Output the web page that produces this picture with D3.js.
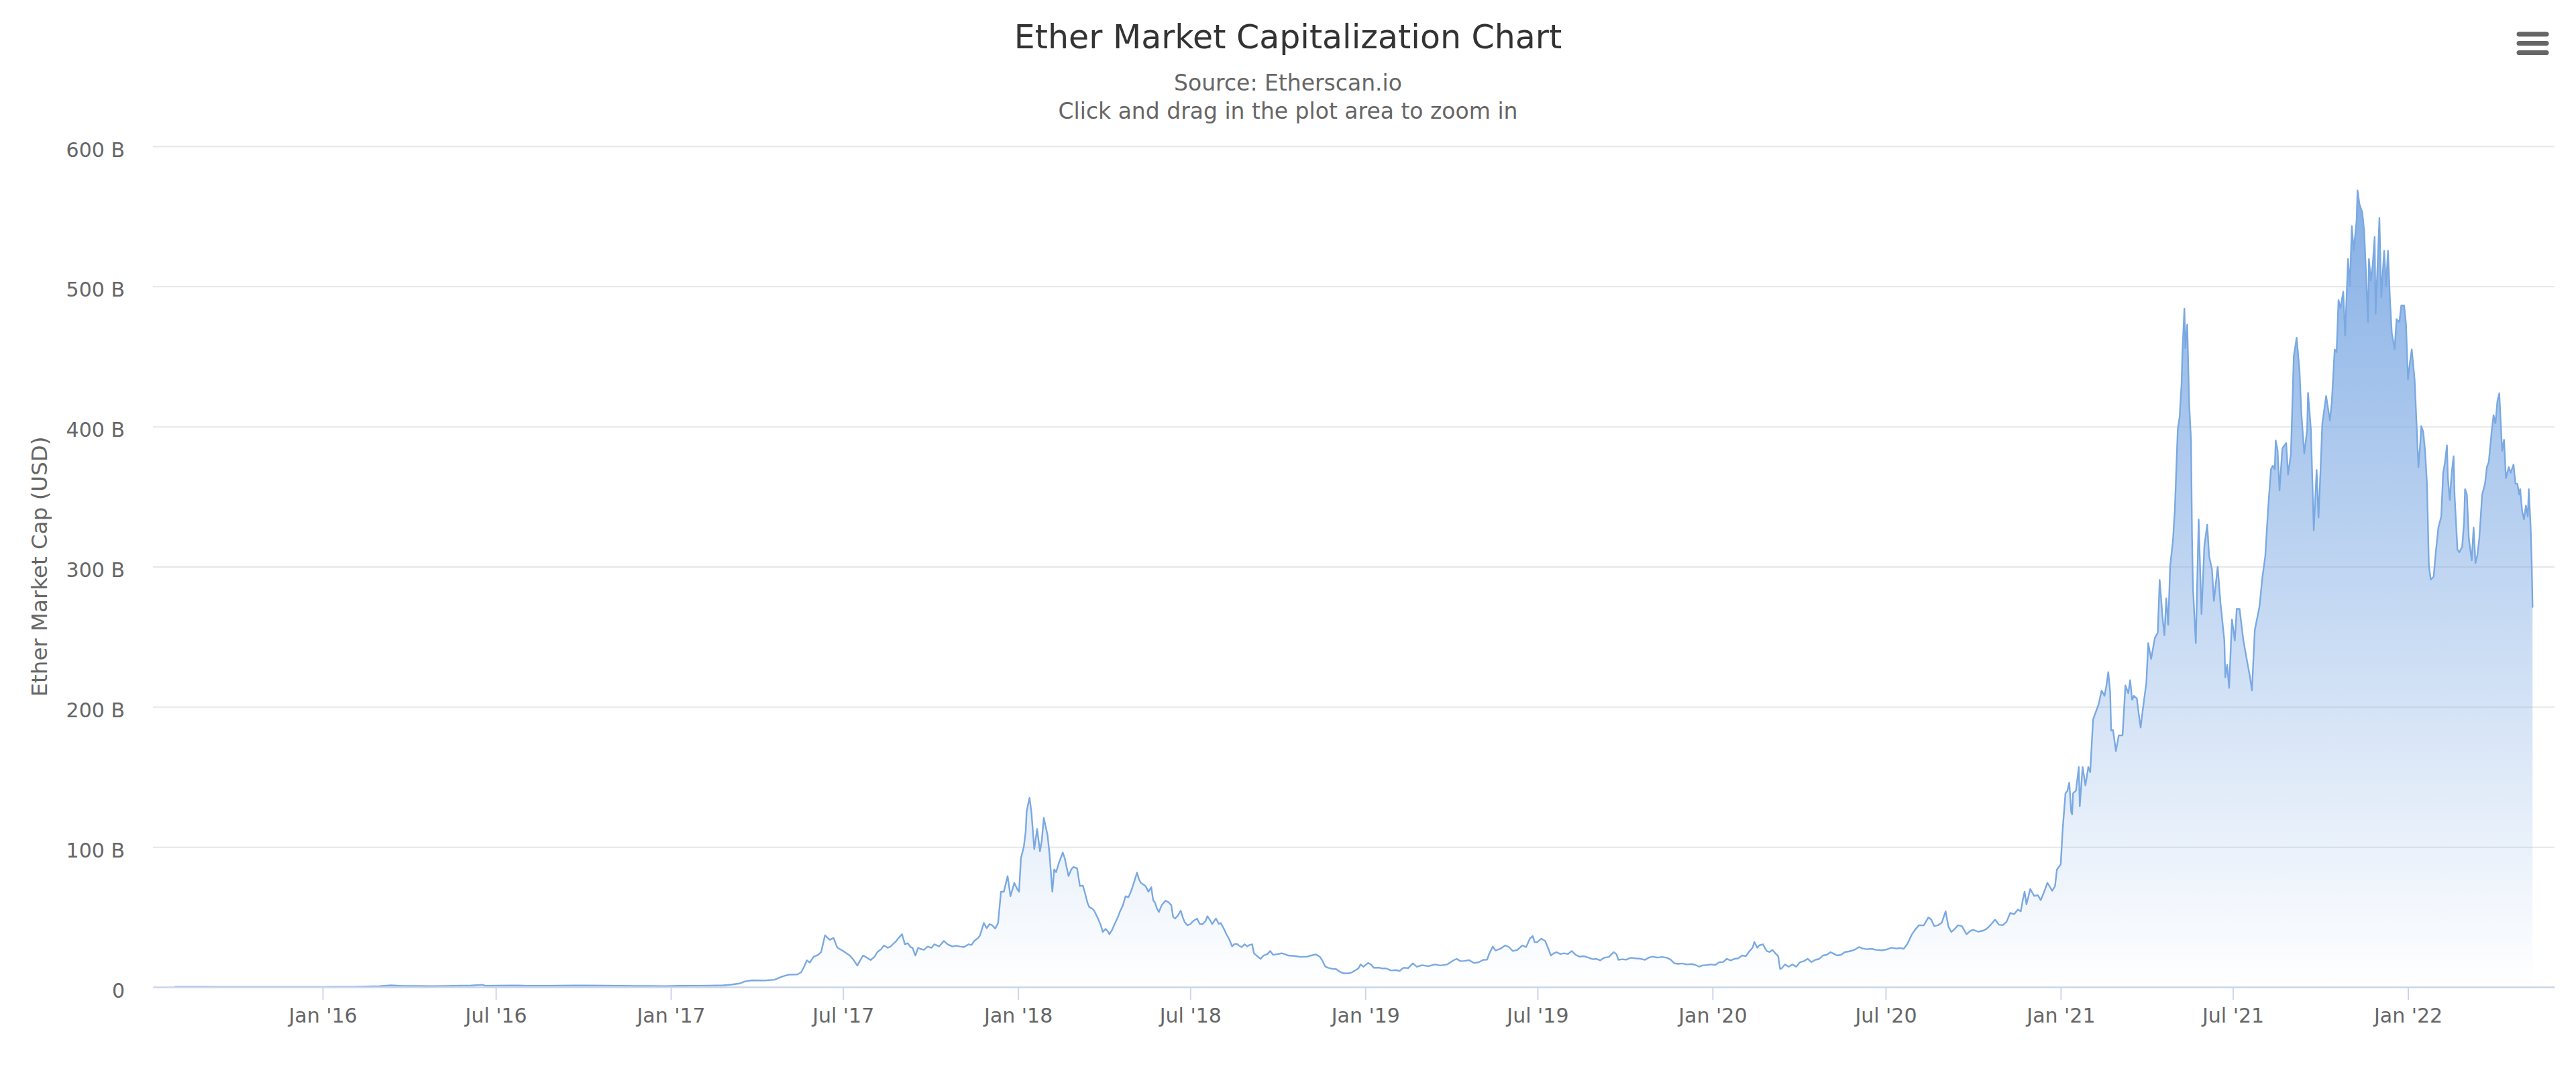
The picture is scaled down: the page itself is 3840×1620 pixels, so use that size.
<!DOCTYPE html>
<html>
<head>
<meta charset="utf-8">
<script src="https://cdn.jsdelivr.net/npm/d3@7"></script>
<style>
  html, body { margin: 0; padding: 0; background: #ffffff; }
  svg { display: block; }
  text { font-family: "DejaVu Sans", "Liberation Sans", sans-serif; }
</style>
</head>
<body>
<svg id="chart" width="3840" height="1620"></svg>
<script>
// ---- DATA (Ether market cap, billions USD) ----
const chartTitle = "Ether Market Capitalization Chart";
const subtitleLines = ["Source: Etherscan.io", "Click and drag in the plot area to zoom in"];
const yAxisTitle = "Ether Market Cap (USD)";
const yTickValues = [0, 100, 200, 300, 400, 500, 600];
const yTickLabels = ["0", "100 B", "200 B", "300 B", "400 B", "500 B", "600 B"];
const xTickLabels = ["Jan '16", "Jul '16", "Jan '17", "Jul '17", "Jan '18", "Jul '18", "Jan '19", "Jul '19", "Jan '20", "Jul '20", "Jan '21", "Jul '21", "Jan '22"];

const cap2015 = [
  ["2015-07-30",0.15],["2015-08-07",0.2],["2015-08-14",0.13],["2015-08-21",0.1],["2015-09-01",0.1],
  ["2015-09-15",0.07],["2015-10-01",0.05],["2015-10-21",0.04],["2015-11-01",0.08],["2015-11-15",0.07],
  ["2015-12-01",0.07],["2015-12-15",0.07]
];
const cap2016 = [
  ["2016-01-01",0.07],["2016-01-15",0.09],["2016-02-01",0.19],["2016-02-15",0.4],["2016-03-01",0.6],
  ["2016-03-13",1.2],["2016-03-25",0.8],["2016-04-10",0.7],["2016-04-25",0.6],["2016-05-10",0.8],
  ["2016-05-25",1.0],["2016-06-05",1.1],["2016-06-17",1.6],["2016-06-20",0.9],["2016-07-01",1.0],
  ["2016-07-24",1.1],["2016-08-05",0.9],["2016-08-20",0.9],["2016-09-05",1.0],["2016-09-20",1.1],
  ["2016-10-05",1.1],["2016-10-25",1.0],["2016-11-10",0.9],["2016-11-25",0.7],["2016-12-10",0.7],
  ["2016-12-25",0.6]
];
const cap2017 = [
  ["2017-01-10",0.85],["2017-01-25",0.9],["2017-02-10",1.0],["2017-02-25",1.2],["2017-03-05",1.7],
  ["2017-03-14",2.5],["2017-03-20",4.0],["2017-03-27",4.8],["2017-04-10",4.7],["2017-04-20",5.2],
  ["2017-04-28",7.5],["2017-05-05",8.8],["2017-05-14",9.0],["2017-05-18",10.5],["2017-05-21",14.5],
  ["2017-05-24",19],["2017-05-27",17.5],["2017-05-31",21.5],["2017-06-05",23],["2017-06-08",25],
  ["2017-06-12",36.9],["2017-06-17",33.7],["2017-06-21",35],["2017-06-25",28.1],["2017-07-01",25.7],
  ["2017-07-08",22.5],["2017-07-12",19.5],["2017-07-16",15.3],["2017-07-19",19],["2017-07-22",22.5],
  ["2017-07-26",21],["2017-07-30",19.3],["2017-08-03",21.5],["2017-08-06",24.9],["2017-08-10",27],
  ["2017-08-13",29.7],["2017-08-17",28],["2017-08-20",28.9],["2017-08-23",31],["2017-08-26",32.9],
  ["2017-08-29",35.5],["2017-09-01",37.7],["2017-09-04",30.5],["2017-09-07",31.3],["2017-09-10",28.5],
  ["2017-09-12",28],["2017-09-15",22.5],["2017-09-18",28],["2017-09-20",27.3],["2017-09-24",26.5],
  ["2017-09-28",28.9],["2017-10-02",28],["2017-10-05",30.5],["2017-10-10",29],["2017-10-15",32.9],
  ["2017-10-19",30.5],["2017-10-24",28.9],["2017-10-28",29.5],["2017-11-01",28.9],["2017-11-05",28.5],
  ["2017-11-10",30.5],["2017-11-13",30],["2017-11-16",32.9],["2017-11-20",35],["2017-11-22",36.9],
  ["2017-11-26",45.7],["2017-11-29",42],["2017-12-02",44.9],["2017-12-05",44],["2017-12-08",41.7],
  ["2017-12-11",45.7],["2017-12-14",68],["2017-12-17",68],["2017-12-21",79.2],["2017-12-24",64.8],
  ["2017-12-28",74.3],["2017-12-31",70]
];
const cap2018 = [
  ["2018-01-02",68],["2018-01-04",92],["2018-01-07",100],["2018-01-09",111],["2018-01-10",125.5],
  ["2018-01-13",135],["2018-01-15",125],["2018-01-16",116],["2018-01-18",98.4],["2018-01-21",112.8],
  ["2018-01-24",96.8],["2018-01-26",105],["2018-01-28",120.7],["2018-02-01",108.2],["2018-02-03",95.2],
  ["2018-02-06",68],["2018-02-08",84],["2018-02-10",82],["2018-02-13",88.8],["2018-02-17",96],
  ["2018-02-19",92],["2018-02-21",85.6],["2018-02-23",79.2],["2018-02-26",84],["2018-02-28",85.6],
  ["2018-03-04",84.8],["2018-03-07",72],["2018-03-10",72.5],["2018-03-12",68],["2018-03-15",60],
  ["2018-03-17",56.9],["2018-03-20",56],["2018-03-22",54.5],["2018-03-26",48.9],["2018-03-29",44],
  ["2018-03-31",39.3],["2018-04-03",41.5],["2018-04-05",40],["2018-04-07",37.7],["2018-04-10",41],
  ["2018-04-13",45.7],["2018-04-16",50],["2018-04-18",53.7],["2018-04-21",58],["2018-04-24",64.8],
  ["2018-04-27",64],["2018-04-30",68.8],["2018-05-03",75],["2018-05-06",81.6],["2018-05-08",77],
  ["2018-05-10",74.4],["2018-05-13",73],["2018-05-15",72],["2018-05-18",68],["2018-05-21",71.2],
  ["2018-05-23",62],["2018-05-25",60],["2018-05-27",56],["2018-05-29",53.5],["2018-06-01",58.5],
  ["2018-06-05",61.6],["2018-06-08",60.5],["2018-06-11",58.5],["2018-06-13",50],["2018-06-15",48.9],
  ["2018-06-18",51],["2018-06-21",54.5],["2018-06-23",50],["2018-06-25",46.5],["2018-06-28",44],
  ["2018-07-01",44.9],["2018-07-04",47],["2018-07-08",48.9],["2018-07-11",45],["2018-07-14",44.9],
  ["2018-07-17",47],["2018-07-19",50.5],["2018-07-22",47.5],["2018-07-24",44.9],["2018-07-26",47],
  ["2018-07-28",48.9],["2018-07-31",45],["2018-08-02",45.7],["2018-08-05",42],["2018-08-08",37.7],
  ["2018-08-11",34],["2018-08-14",29],["2018-08-16",30.5],["2018-08-19",30.8],["2018-08-21",29.7],
  ["2018-08-24",28.5],["2018-08-27",30.5],["2018-08-30",29],["2018-09-01",30],["2018-09-04",30.5],
  ["2018-09-06",24],["2018-09-10",21.7],["2018-09-13",20.1],["2018-09-16",22.5],["2018-09-20",23.5],
  ["2018-09-23",25.7],["2018-09-26",23],["2018-09-29",23.3],["2018-10-02",23.6],["2018-10-05",24.1],
  ["2018-10-08",23.5],["2018-10-12",22.5],["2018-10-16",22.3],["2018-10-20",22],["2018-10-25",21.5],
  ["2018-11-01",21.7],["2018-11-05",22.5],["2018-11-10",23.3],["2018-11-14",21.7],["2018-11-17",18.7],
  ["2018-11-20",14.5],["2018-11-23",13.7],["2018-11-28",12.9],["2018-12-01",12.9],["2018-12-05",11],
  ["2018-12-09",9.8],["2018-12-14",9.7],["2018-12-18",10.5],["2018-12-22",12.1],["2018-12-25",13.5],
  ["2018-12-27",16.1],["2018-12-30",14.5]
];
const cap2019 = [
  ["2019-01-04",17.2],["2019-01-07",16],["2019-01-10",13.7],["2019-01-15",13.8],["2019-01-19",13.3],
  ["2019-01-23",13.3],["2019-01-28",11.8],["2019-02-02",12.1],["2019-02-06",11.5],["2019-02-10",13.7],
  ["2019-02-15",13.5],["2019-02-20",16.9],["2019-02-24",14.5],["2019-03-02",15.6],["2019-03-08",14.8],
  ["2019-03-15",16.1],["2019-03-21",15.4],["2019-03-28",16.1],["2019-04-03",18.8],["2019-04-07",20.1],
  ["2019-04-11",18.5],["2019-04-15",18.6],["2019-04-20",19.2],["2019-04-25",17.2],["2019-04-30",17.6],
  ["2019-05-05",19.4],["2019-05-09",19.5],["2019-05-11",23.3],["2019-05-15",28.9],["2019-05-18",26],
  ["2019-05-23",27.3],["2019-05-28",29.7],["2019-06-01",28.5],["2019-06-05",25.7],["2019-06-10",26.5],
  ["2019-06-15",29.7],["2019-06-19",28.5],["2019-06-23",34.5],["2019-06-26",36.4],["2019-06-28",32],
  ["2019-07-01",32.1],["2019-07-05",34.5],["2019-07-09",32.9],["2019-07-12",28],["2019-07-15",22.5],
  ["2019-07-18",24],["2019-07-21",24.9],["2019-07-25",23.5],["2019-07-29",24.1],["2019-08-02",23.5],
  ["2019-08-06",25.7],["2019-08-10",23],["2019-08-14",21.7],["2019-08-19",22],["2019-08-24",20.9],
  ["2019-08-28",19.8],["2019-09-01",20.1],["2019-09-05",19],["2019-09-09",20.9],["2019-09-14",21.5],
  ["2019-09-19",24.9],["2019-09-22",23.5],["2019-09-24",19.4],["2019-09-28",19.8],["2019-10-02",19.5],
  ["2019-10-07",20.9],["2019-10-12",20.5],["2019-10-17",20.2],["2019-10-22",19.4],["2019-10-26",21],
  ["2019-10-30",21.7],["2019-11-04",21],["2019-11-09",21.5],["2019-11-14",20.9],["2019-11-18",19.5],
  ["2019-11-22",16.9],["2019-11-26",16.5],["2019-11-30",16.8],["2019-12-05",16.1],["2019-12-10",16.4],
  ["2019-12-14",15.8],["2019-12-18",14.5],["2019-12-22",15.5],["2019-12-26",15.7],["2019-12-30",16.1]
];
const cap2020 = [
  ["2020-01-04",15.8],["2020-01-08",17.7],["2020-01-12",17.8],["2020-01-16",20.1],["2020-01-20",19],
  ["2020-01-24",20.1],["2020-01-28",20.5],["2020-02-01",22.5],["2020-02-05",22],["2020-02-09",25.7],
  ["2020-02-12",28],["2020-02-14",32.1],["2020-02-17",28],["2020-02-19",29.7],["2020-02-23",30.5],
  ["2020-02-25",28],["2020-02-27",25.7],["2020-03-01",25],["2020-03-04",26.5],["2020-03-07",24.1],
  ["2020-03-10",22],["2020-03-12",12.9],["2020-03-14",13.5],["2020-03-17",16.1],["2020-03-21",14.5],
  ["2020-03-25",16.1],["2020-03-29",14.5],["2020-04-02",17.7],["2020-04-06",18.5],["2020-04-10",20.1],
  ["2020-04-14",17.8],["2020-04-18",19.4],["2020-04-22",20],["2020-04-26",22.5],["2020-04-30",23],
  ["2020-05-04",24.9],["2020-05-08",23.5],["2020-05-11",22.5],["2020-05-15",23],["2020-05-19",24.9],
  ["2020-05-24",25.5],["2020-05-29",26.5],["2020-06-03",28.5],["2020-06-07",27.5],["2020-06-11",27],
  ["2020-06-16",27.3],["2020-06-21",26.5],["2020-06-27",26.2],["2020-07-02",26.8],["2020-07-07",28.1],
  ["2020-07-12",27.5],["2020-07-16",27.8],["2020-07-20",27.3],["2020-07-24",31],["2020-07-28",36.9],
  ["2020-08-01",41],["2020-08-05",44.1],["2020-08-10",44],["2020-08-15",49.7],["2020-08-18",48],
  ["2020-08-21",43.5],["2020-08-25",44.1],["2020-08-29",46],["2020-09-02",54],["2020-09-05",43],
  ["2020-09-08",39.3],["2020-09-11",41],["2020-09-15",44.1],["2020-09-19",43.5],["2020-09-24",37.7],
  ["2020-09-28",40],["2020-10-01",40.9],["2020-10-06",39.5],["2020-10-11",40.1],["2020-10-15",41.5],
  ["2020-10-19",44.1],["2020-10-24",48.1],["2020-10-28",44.5],["2020-11-01",44.1],["2020-11-05",46.5],
  ["2020-11-09",52.9],["2020-11-13",52],["2020-11-17",55.3],["2020-11-20",54],["2020-11-22",61.7],
  ["2020-11-24",68],["2020-11-26",59],["2020-11-30",70],["2020-12-04",65],["2020-12-08",65.5],
  ["2020-12-11",62],["2020-12-15",68.7],["2020-12-18",74.4],["2020-12-21",71],["2020-12-23",68.7],
  ["2020-12-26",72],["2020-12-28",83.8]
];
const cap2021 = [
  ["2021-01-01",87.5],["2021-01-03",112],["2021-01-06",138.3],["2021-01-08",140],["2021-01-10",145.8],
  ["2021-01-12",125],["2021-01-13",123.2],["2021-01-14",138.3],["2021-01-17",140.1],["2021-01-20",157],
  ["2021-01-21",128.9],["2021-01-24",157],["2021-01-27",143.9],["2021-01-30",157],["2021-02-01",153.3],
  ["2021-02-04",190.9],["2021-02-07",196.5],["2021-02-10",202.2],["2021-02-13",211.6],["2021-02-16",207.8],
  ["2021-02-18",215],["2021-02-20",224.7],["2021-02-22",210],["2021-02-23",183],["2021-02-25",183.4],
  ["2021-02-28",168.3],["2021-03-03",179.6],["2021-03-07",179.6],["2021-03-10",215.3],["2021-03-13",209.7],
  ["2021-03-15",219],["2021-03-17",205],["2021-03-19",207.8],["2021-03-22",206],["2021-03-24",195],
  ["2021-03-26",185.2],["2021-03-28",196.5],["2021-04-01",217.2],["2021-04-03",245.4],["2021-04-06",234.1],
  ["2021-04-10",249.2],["2021-04-13",252.9],["2021-04-15",290.5],["2021-04-18",264.2],["2021-04-20",251],
  ["2021-04-22",277.4],["2021-04-24",258.5],["2021-04-26",299.9],["2021-04-29",318.7],["2021-05-01",341.3],
  ["2021-05-04",397.6],["2021-05-06",407],["2021-05-08",430],["2021-05-09",454],["2021-05-11",484.1],
  ["2021-05-12",455.9],["2021-05-14",472.8],["2021-05-16",416.4],["2021-05-18",390],["2021-05-19",322.5],
  ["2021-05-20",284.9],["2021-05-23",245.4],["2021-05-26",333.7],["2021-05-29",266.1],["2021-06-01",315],
  ["2021-06-04",330],["2021-06-06",307.4],["2021-06-09",298],["2021-06-11",275.5],["2021-06-15",299.9],
  ["2021-06-18",273.6],["2021-06-22",247.3],["2021-06-23",221],["2021-06-25",230],["2021-06-27",213.4],
  ["2021-06-30",262.3],["2021-07-03",247.3],["2021-07-05",269.8],["2021-07-08",269.8],["2021-07-12",247.3],
  ["2021-07-16",232.2],["2021-07-19",221],["2021-07-21",211.6],["2021-07-24",254.8],["2021-07-29",271.7],
  ["2021-08-01",292.4],["2021-08-04",307.4],["2021-08-07",341.3],["2021-08-10",369.5],["2021-08-12",372],
  ["2021-08-14",369.5],["2021-08-15",390.1],["2021-08-17",382.6],["2021-08-19",354.4],["2021-08-22",384.5],
  ["2021-08-26",388.2],["2021-08-28",365.7],["2021-08-31",380.7],["2021-09-03",450.3],["2021-09-06",463.4],
  ["2021-09-09",440],["2021-09-11",408.9],["2021-09-14",380.7],["2021-09-17",397.6],["2021-09-18",424],
  ["2021-09-21",397.6],["2021-09-24",326],["2021-09-27",369],["2021-09-29",335],["2021-10-01",367],
  ["2021-10-03",402.3],["2021-10-07",421.8],["2021-10-11",404.2],["2021-10-13",417.9],["2021-10-16",455.1],
  ["2021-10-18",453.1],["2021-10-20",490.3],["2021-10-22",484.4],["2021-10-25",496.2],["2021-10-27",464.9],
  ["2021-10-30",519.6],["2021-11-01",500.1],["2021-11-03",543.1],["2021-11-05",525.5],["2021-11-08",547],
  ["2021-11-09",568.5],["2021-11-11",558.7],["2021-11-14",552.9],["2021-11-16",539.2],["2021-11-18",507.9],
  ["2021-11-20",474.6],["2021-11-21",519.6],["2021-11-23",504],["2021-11-25",515.7],["2021-11-27",535.3],
  ["2021-11-28",480.5],["2021-11-30",513.8],["2021-12-02",548.9],["2021-12-04",492.2],["2021-12-07",525.5],
  ["2021-12-09",500.1],["2021-12-11",525.5],["2021-12-13",492.2],["2021-12-15",466.8],["2021-12-18",455.1],
  ["2021-12-20",476.6],["2021-12-23",474.6],["2021-12-25",486.4],["2021-12-28",486.4],["2021-12-30",472.7]
];
const cap2022 = [
  ["2022-01-01",433.6],["2022-01-03",445.3],["2022-01-05",455.1],["2022-01-08",433.6],["2022-01-10",402.3],
  ["2022-01-12",371],["2022-01-14",388.6],["2022-01-15",400.3],["2022-01-17",396.4],["2022-01-19",382.7],
  ["2022-01-21",359.2],["2022-01-23",300.6],["2022-01-25",290.8],["2022-01-28",292.7],["2022-01-30",308.4],
  ["2022-02-02",327.9],["2022-02-05",335.8],["2022-02-07",367],["2022-02-09",374.9],["2022-02-11",386.6],
  ["2022-02-12",363.1],["2022-02-14",347.5],["2022-02-16",367],["2022-02-18",378.8],["2022-02-19",351.4],
  ["2022-02-22",312.3],["2022-02-24",310.3],["2022-02-27",314.2],["2022-03-01",331.9],["2022-03-02",355.3],
  ["2022-03-04",351.4],["2022-03-06",320.1],["2022-03-09",304.5],["2022-03-11",327.9],["2022-03-13",302.5],
  ["2022-03-15",308.4],["2022-03-17",320.1],["2022-03-20",351.4],["2022-03-23",359.2],["2022-03-25",371],
  ["2022-03-27",374.9],["2022-03-30",396.4],["2022-04-01",408.1],["2022-04-03",402.3],["2022-04-05",417.9],
  ["2022-04-07",423.8],["2022-04-08",410.1],["2022-04-10",382.7],["2022-04-12",390.5],["2022-04-14",363.1],
  ["2022-04-17",371],["2022-04-19",367],["2022-04-22",372.9],["2022-04-24",359.2],["2022-04-26",359.2],
  ["2022-04-28",351.4],["2022-04-29",355.3],["2022-05-01",339.7],["2022-05-03",333.8],["2022-05-05",343.6],
  ["2022-05-07",335.8],["2022-05-08",355.3],["2022-05-10",327.9],["2022-05-11",304.5],["2022-05-12",271.2]
];

// ---- BUILD ----
const parse = d3.utcParse("%Y-%m-%d");
const series = [].concat(cap2015, cap2016, cap2017, cap2018, cap2019, cap2020, cap2021, cap2022)
  .map(([d, v]) => ({ date: parse(d), value: v }));

const W = 3840, H = 1620;
const plotLeft = 228, plotRight = 3808, plotTop = 218, plotBottom = 1471;

const svg = d3.select("#chart");
svg.append("rect").attr("width", W).attr("height", H).attr("fill", "#ffffff");

const x = d3.scaleUtc()
  .domain([new Date("2015-07-06T14:00:00Z"), new Date("2022-06-04T02:00:00Z")])
  .range([plotLeft, plotRight]);
const y = d3.scaleLinear().domain([0, 600]).range([plotBottom, plotTop]);

// gradient
const defs = svg.append("defs");
const grad = defs.append("linearGradient").attr("id", "areaGrad")
  .attr("x1", 0).attr("y1", 0).attr("x2", 0).attr("y2", 1);
grad.append("stop").attr("offset", "0%").attr("stop-color", "#7fabe4").attr("stop-opacity", 0.95);
grad.append("stop").attr("offset", "100%").attr("stop-color", "#7fabe4").attr("stop-opacity", 0);

// Y axis with gridlines
const yAxis = d3.axisLeft(y)
  .tickValues(yTickValues)
  .tickFormat((d, i) => yTickLabels[i])
  .tickSize(-(plotRight - plotLeft))
  .tickPadding(42);
const gy = svg.append("g").attr("transform", `translate(${plotLeft},0)`).call(yAxis);
gy.select(".domain").remove();
gy.selectAll(".tick line").attr("stroke", "#e6e6e6").attr("stroke-width", 2);
gy.selectAll(".tick text")
  .attr("fill", "#666666").attr("font-size", 30)
  .attr("font-family", "DejaVu Sans, sans-serif")
  .attr("dy", "0.5em");

// Area + line
const area = d3.area().x(d => x(d.date)).y0(y(0)).y1(d => y(d.value));
const line = d3.line().x(d => x(d.date)).y(d => y(d.value));
svg.append("path").datum(series).attr("d", area).attr("fill", "url(#areaGrad)");
svg.append("path").datum(series).attr("d", line)
  .attr("fill", "none").attr("stroke", "#7aa9e2").attr("stroke-width", 2.4)
  .attr("stroke-linejoin", "round").attr("stroke-linecap", "round");

// X axis
const xTicks = x.ticks(d3.utcMonth.every(6));
const xAxis = d3.axisBottom(x)
  .tickValues(xTicks)
  .tickFormat((d, i) => xTickLabels[i])
  .tickSize(19).tickSizeOuter(0).tickPadding(13);
const gx = svg.append("g").attr("transform", `translate(0,${plotBottom})`).call(xAxis);
gx.select(".domain").attr("stroke", "#ccd6eb").attr("stroke-width", 2.5);
gx.selectAll(".tick line").attr("stroke", "#ccd6eb").attr("stroke-width", 2);
gx.selectAll(".tick text")
  .attr("fill", "#666666").attr("font-size", 30)
  .attr("font-family", "DejaVu Sans, sans-serif");

// Titles
svg.append("text").attr("x", W / 2).attr("y", 72).attr("text-anchor", "middle")
  .attr("font-size", 49).attr("fill", "#333333").text(chartTitle);
svg.append("text").attr("x", W / 2).attr("y", 135).attr("text-anchor", "middle")
  .attr("font-size", 33).attr("fill", "#666666").text(subtitleLines[0]);
svg.append("text").attr("x", W / 2).attr("y", 177).attr("text-anchor", "middle")
  .attr("font-size", 33).attr("fill", "#666666").text(subtitleLines[1]);

// Y axis title
svg.append("text")
  .attr("transform", `translate(70,${(plotTop + plotBottom) / 2}) rotate(-90)`)
  .attr("text-anchor", "middle").attr("font-size", 32.5).attr("fill", "#666666")
  .text(yAxisTitle);

// Context menu (hamburger) icon
const menu = svg.append("g").attr("stroke", "#666666").attr("stroke-width", 7).attr("stroke-linecap", "round");
[51, 64.5, 78.5].forEach(yy => {
  menu.append("line").attr("x1", 3755).attr("x2", 3796).attr("y1", yy).attr("y2", yy);
});
</script>
</body>
</html>
